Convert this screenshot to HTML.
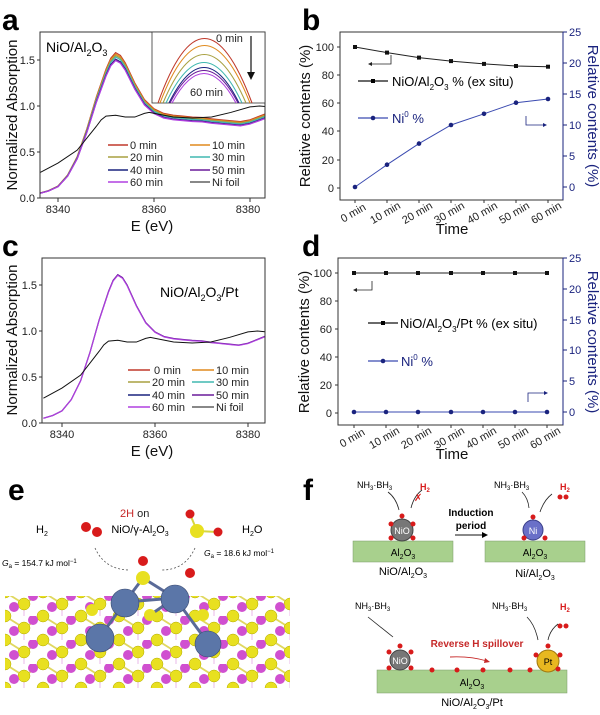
<!DOCTYPE html>
<html><head><meta charset="utf-8"><style>
html,body{margin:0;padding:0;background:#fff}
svg{display:block;font-family:"Liberation Sans",Arial,sans-serif}
.t{font-size:11px;fill:#222}
.ax{font-size:15px;fill:#111}
.lg{font-size:11px;fill:#222}
</style></head><body>
<svg width="600" height="715" viewBox="0 0 600 715" xmlns="http://www.w3.org/2000/svg">
<defs>
<clipPath id="ca"><rect x="40" y="32" width="225" height="166"/></clipPath>
<clipPath id="cc"><rect x="42" y="258" width="223" height="165"/></clipPath>
<clipPath id="ci"><rect x="152" y="32" width="113" height="71"/></clipPath>
<polyline id="nio" fill="none" vector-effect="non-scaling-stroke" points="0,0.05 2,0.08 4,0.13 6,0.25 8,0.45 10,0.75 12,1.1 14,1.4 15,1.52 16,1.58 17,1.55 18,1.47 20,1.25 22,1.07 24,0.97 26,0.92 28,0.9 30,0.89 32,0.88 34,0.875 36,0.86 38,0.85 40,0.84 42,0.83 44,0.85 46,0.89 48,0.93"/>
<polyline id="foil" fill="none" vector-effect="non-scaling-stroke" points="0,0.27 4,0.38 8,0.52 10,0.65 12,0.78 13,0.85 14,0.89 16,0.9 18,0.88 20,0.88 22,0.92 23,0.93 25,0.91 28,0.88 32,0.87 36,0.88 40,0.93 44,0.99 46,1.0 48,0.99"/>
<pattern id="lat" x="5" y="592" width="38" height="24" patternUnits="userSpaceOnUse">
 <line x1="0" y1="0" x2="19" y2="12" stroke="#e0d860" stroke-width="1.8"/>
 <line x1="19" y1="12" x2="38" y2="0" stroke="#e0d860" stroke-width="1.8"/>
 <line x1="19" y1="12" x2="19" y2="24" stroke="#e8b8e8" stroke-width="1"/>
 <circle cx="0" cy="0" r="6" fill="#e8e020" stroke="#b0a800" stroke-width="0.5"/>
 <circle cx="38" cy="0" r="6" fill="#e8e020" stroke="#b0a800" stroke-width="0.5"/>
 <circle cx="0" cy="24" r="6" fill="#e8e020" stroke="#b0a800" stroke-width="0.5"/>
 <circle cx="38" cy="24" r="6" fill="#e8e020" stroke="#b0a800" stroke-width="0.5"/>
 <circle cx="19" cy="12" r="6" fill="#e8e020" stroke="#b0a800" stroke-width="0.5"/>
 <circle cx="9" cy="15" r="5" fill="#d050d0"/>
 <circle cx="28" cy="4" r="5" fill="#d050d0"/>
</pattern>
</defs>

<text x="2" y="30" font-size="30" font-weight="bold">a</text>
<text x="302" y="30" font-size="30" font-weight="bold">b</text>
<text x="2" y="256" font-size="30" font-weight="bold">c</text>
<text x="302" y="256" font-size="30" font-weight="bold">d</text>
<text x="8" y="500" font-size="30" font-weight="bold">e</text>
<text x="303" y="500" font-size="30" font-weight="bold">f</text>

<!-- ===== Panel a ===== -->
<g clip-path="url(#ca)">
 <g transform="translate(38.8,198) scale(4.8,-92)">
  <use href="#nio" stroke="#c0392b" stroke-width="1.2"/>
  <use href="#nio" stroke="#e08a1e" stroke-width="1.2" transform="scale(1,0.99)"/>
  <use href="#nio" stroke="#a8a040" stroke-width="1.2" transform="scale(1,0.98)"/>
  <use href="#nio" stroke="#40b8b0" stroke-width="1.2" transform="scale(1,0.97)"/>
  <use href="#nio" stroke="#1a237e" stroke-width="1.2" transform="scale(1,0.955)"/>
  <use href="#nio" stroke="#6a1b9a" stroke-width="1.2" transform="scale(1,0.95)"/>
  <use href="#nio" stroke="#b040e0" stroke-width="1.2" transform="scale(1,0.945)"/>
  <use href="#foil" stroke="#111" stroke-width="1"/>
 </g>
</g>
<rect x="40" y="32" width="225" height="166" fill="none" stroke="#333" stroke-width="1"/>
<rect x="152" y="32" width="113" height="71" fill="#fff" stroke="#333" stroke-width="0.8"/>
<g clip-path="url(#ci)" fill="none" stroke-width="1.1">
 <path d="M158,103 Q204,-26 252,103" stroke="#c0392b"/>
 <path d="M160,103 Q204,-12 250,103" stroke="#e08a1e"/>
 <path d="M163,103 Q204,6 246,103" stroke="#a8a040"/>
 <path d="M166,103 Q204,22 242,103" stroke="#40b8b0"/>
 <path d="M169,103 Q204,32 239,103" stroke="#1a237e"/>
 <path d="M170,103 Q204,38 238,103" stroke="#6a1b9a"/>
 <path d="M172,103 Q204,44 236,103" stroke="#b040e0"/>
</g>
<text x="216" y="42" class="t">0 min</text>
<text x="190" y="96" class="t">60 min</text>
<line x1="251" y1="36" x2="251" y2="76" stroke="#111" stroke-width="1.2"/>
<path d="M247,72 L251,80 L255,72 Z" fill="#111"/>
<text x="46" y="52" font-size="14">NiO/Al<tspan font-size="9" dy="4">2</tspan><tspan dy="-4">O</tspan><tspan font-size="9" dy="4">3</tspan></text>
<g stroke="#333" stroke-width="1">
 <line x1="40" y1="198" x2="37" y2="198"/><line x1="40" y1="152" x2="37" y2="152"/><line x1="40" y1="106" x2="37" y2="106"/><line x1="40" y1="60" x2="37" y2="60"/>
 <line x1="58" y1="198" x2="58" y2="202"/><line x1="154" y1="198" x2="154" y2="202"/><line x1="250" y1="198" x2="250" y2="202"/>
</g>
<text x="35" y="202" class="t" text-anchor="end">0.0</text>
<text x="35" y="156" class="t" text-anchor="end">0.5</text>
<text x="35" y="110" class="t" text-anchor="end">1.0</text>
<text x="35" y="64" class="t" text-anchor="end">1.5</text>
<text x="58" y="213" class="t" text-anchor="middle">8340</text>
<text x="154" y="213" class="t" text-anchor="middle">8360</text>
<text x="248" y="213" class="t" text-anchor="middle">8380</text>
<text x="152" y="231" class="ax" text-anchor="middle">E (eV)</text>
<text transform="translate(17,115) rotate(-90)" class="ax" text-anchor="middle">Normalized Absorption</text>
<g stroke-width="1.5">
 <line x1="108" y1="145" x2="128" y2="145" stroke="#c0392b"/><line x1="190" y1="145" x2="210" y2="145" stroke="#e08a1e"/>
 <line x1="108" y1="157" x2="128" y2="157" stroke="#a8a040"/><line x1="190" y1="157" x2="210" y2="157" stroke="#40b8b0"/>
 <line x1="108" y1="170" x2="128" y2="170" stroke="#1a237e"/><line x1="190" y1="170" x2="210" y2="170" stroke="#6a1b9a"/>
 <line x1="108" y1="182" x2="128" y2="182" stroke="#b040e0"/><line x1="190" y1="182" x2="210" y2="182" stroke="#111" stroke-width="1"/>
</g>
<text x="130" y="149" class="lg">0 min</text><text x="212" y="149" class="lg">10 min</text>
<text x="130" y="161" class="lg">20 min</text><text x="212" y="161" class="lg">30 min</text>
<text x="130" y="174" class="lg">40 min</text><text x="212" y="174" class="lg">50 min</text>
<text x="130" y="186" class="lg">60 min</text><text x="212" y="186" class="lg">Ni foil</text>

<!-- ===== Panel c ===== -->
<g clip-path="url(#cc)">
 <g transform="translate(43.4,423) scale(4.65,-92)">
  <use href="#nio" stroke="#6a1b9a" stroke-width="1.3" transform="scale(1,1.02)"/>
  <use href="#nio" stroke="#b040e0" stroke-width="1.1" transform="scale(1,1.015)"/>
  <use href="#foil" stroke="#111" stroke-width="1"/>
 </g>
</g>
<rect x="42" y="258" width="223" height="165" fill="none" stroke="#333" stroke-width="1"/>
<g stroke="#333" stroke-width="1">
 <line x1="42" y1="423" x2="39" y2="423"/><line x1="42" y1="377" x2="39" y2="377"/><line x1="42" y1="331" x2="39" y2="331"/><line x1="42" y1="285" x2="39" y2="285"/>
 <line x1="62" y1="423" x2="62" y2="427"/><line x1="155" y1="423" x2="155" y2="427"/><line x1="248" y1="423" x2="248" y2="427"/>
</g>
<text x="37" y="427" class="t" text-anchor="end">0.0</text>
<text x="37" y="381" class="t" text-anchor="end">0.5</text>
<text x="37" y="335" class="t" text-anchor="end">1.0</text>
<text x="37" y="289" class="t" text-anchor="end">1.5</text>
<text x="62" y="438" class="t" text-anchor="middle">8340</text>
<text x="155" y="438" class="t" text-anchor="middle">8360</text>
<text x="248" y="438" class="t" text-anchor="middle">8380</text>
<text x="152" y="456" class="ax" text-anchor="middle">E (eV)</text>
<text transform="translate(17,340) rotate(-90)" class="ax" text-anchor="middle">Normalized Absorption</text>
<text x="160" y="297" font-size="14">NiO/Al<tspan font-size="9" dy="4">2</tspan><tspan dy="-4">O</tspan><tspan font-size="9" dy="4">3</tspan><tspan dy="-4">/Pt</tspan></text>
<g stroke-width="1.5">
 <line x1="128" y1="370" x2="150" y2="370" stroke="#c0392b"/><line x1="192" y1="370" x2="214" y2="370" stroke="#e08a1e"/>
 <line x1="128" y1="382" x2="150" y2="382" stroke="#a8a040"/><line x1="192" y1="382" x2="214" y2="382" stroke="#40b8b0"/>
 <line x1="128" y1="395" x2="150" y2="395" stroke="#1a237e"/><line x1="192" y1="395" x2="214" y2="395" stroke="#6a1b9a"/>
 <line x1="128" y1="407" x2="150" y2="407" stroke="#b040e0"/><line x1="192" y1="407" x2="214" y2="407" stroke="#111" stroke-width="1"/>
</g>
<text x="154" y="374" class="lg">0  min</text><text x="216" y="374" class="lg">10 min</text>
<text x="152" y="386" class="lg">20 min</text><text x="216" y="386" class="lg">30 min</text>
<text x="152" y="399" class="lg">40 min</text><text x="216" y="399" class="lg">50 min</text>
<text x="152" y="411" class="lg">60 min</text><text x="216" y="411" class="lg">Ni  foil</text>

<!-- ===== Panel b ===== -->
<rect x="340" y="32" width="223" height="168" fill="none" stroke="#333" stroke-width="1"/>
<line x1="563" y1="32" x2="563" y2="200" stroke="#1a237e" stroke-width="1"/>
<g stroke="#333"><line x1="340" y1="188" x2="337" y2="188"/><line x1="340" y1="160" x2="337" y2="160"/><line x1="340" y1="131" x2="337" y2="131"/><line x1="340" y1="103" x2="337" y2="103"/><line x1="340" y1="75" x2="337" y2="75"/><line x1="340" y1="47" x2="337" y2="47"/></g>
<text x="334" y="192" class="t" text-anchor="end">0</text><text x="334" y="164" class="t" text-anchor="end">20</text><text x="334" y="135" class="t" text-anchor="end">40</text><text x="334" y="107" class="t" text-anchor="end">60</text><text x="334" y="79" class="t" text-anchor="end">80</text><text x="334" y="51" class="t" text-anchor="end">100</text>
<g stroke="#1a237e"><line x1="563" y1="187" x2="567" y2="187"/><line x1="563" y1="156" x2="567" y2="156"/><line x1="563" y1="125" x2="567" y2="125"/><line x1="563" y1="94" x2="567" y2="94"/><line x1="563" y1="63" x2="567" y2="63"/><line x1="563" y1="32" x2="567" y2="32"/></g>
<g class="t" style="fill:#1a237e"><text x="569" y="191">0</text><text x="569" y="160">5</text><text x="569" y="129">10</text><text x="569" y="98">15</text><text x="569" y="67">20</text><text x="569" y="36">25</text></g>
<text transform="translate(588,116) rotate(90)" class="ax" text-anchor="middle" style="fill:#1a237e">Relative contents (%)</text>
<text transform="translate(310,116) rotate(-90)" class="ax" text-anchor="middle">Relative contents (%)</text>
<g stroke="#333"><line x1="355" y1="200" x2="355" y2="203"/><line x1="387" y1="200" x2="387" y2="203"/><line x1="419" y1="200" x2="419" y2="203"/><line x1="451" y1="200" x2="451" y2="203"/><line x1="484" y1="200" x2="484" y2="203"/><line x1="516" y1="200" x2="516" y2="203"/><line x1="548" y1="200" x2="548" y2="203"/></g>
<g class="t" font-size="10">
<text transform="translate(355,216) rotate(-30)" text-anchor="middle">0 min</text>
<text transform="translate(387,216) rotate(-30)" text-anchor="middle">10 min</text>
<text transform="translate(419,216) rotate(-30)" text-anchor="middle">20 min</text>
<text transform="translate(451,216) rotate(-30)" text-anchor="middle">30 min</text>
<text transform="translate(484,216) rotate(-30)" text-anchor="middle">40 min</text>
<text transform="translate(516,216) rotate(-30)" text-anchor="middle">50 min</text>
<text transform="translate(548,216) rotate(-30)" text-anchor="middle">60 min</text>
</g>
<text x="452" y="234" class="ax" text-anchor="middle">Time</text>
<polyline points="355,47 387,52.6 419,57.6 451,61.1 484,63.9 516,66 548,66.7" fill="none" stroke="#222" stroke-width="1"/>
<g fill="#111"><rect x="353" y="45" width="4" height="4"/><rect x="385" y="50.6" width="4" height="4"/><rect x="417" y="55.6" width="4" height="4"/><rect x="449" y="59.1" width="4" height="4"/><rect x="482" y="61.9" width="4" height="4"/><rect x="514" y="64" width="4" height="4"/><rect x="546" y="64.7" width="4" height="4"/></g>
<polyline points="355,187 387,164.7 419,143.6 451,125 484,113.8 516,102.7 548,99" fill="none" stroke="#3a4ab0" stroke-width="1"/>
<g fill="#1a237e"><circle cx="355" cy="187" r="2.3"/><circle cx="387" cy="164.7" r="2.3"/><circle cx="419" cy="143.6" r="2.3"/><circle cx="451" cy="125" r="2.3"/><circle cx="484" cy="113.8" r="2.3"/><circle cx="516" cy="102.7" r="2.3"/><circle cx="548" cy="99" r="2.3"/></g>
<path d="M391,55 V64 H372" fill="none" stroke="#222" stroke-width="0.8"/><path d="M372,62 L368,64 L372,66Z" fill="#222"/>
<path d="M526,116 V125 H543" fill="none" stroke="#1a237e" stroke-width="0.8"/><path d="M543,123 L547,125 L543,127Z" fill="#1a237e"/>
<line x1="358" y1="81" x2="388" y2="81" stroke="#111" stroke-width="1.2"/><rect x="371" y="79" width="4" height="4"/>
<text x="392" y="86" font-size="13">NiO/Al<tspan font-size="8" dy="4">2</tspan><tspan dy="-4">O</tspan><tspan font-size="8" dy="4">3</tspan><tspan dy="-4">  % (ex situ)</tspan></text>
<line x1="358" y1="118" x2="388" y2="118" stroke="#3a4ab0" stroke-width="1.2"/><circle cx="373" cy="118" r="2.3" fill="#1a237e"/>
<text x="392" y="123" font-size="13" fill="#1a237e">Ni<tspan font-size="8" dy="-6">0</tspan><tspan dy="6">  %</tspan></text>

<!-- ===== Panel d ===== -->
<rect x="338" y="258" width="225" height="167" fill="none" stroke="#333" stroke-width="1"/>
<line x1="563" y1="258" x2="563" y2="425" stroke="#1a237e" stroke-width="1"/>
<g stroke="#333"><line x1="338" y1="413" x2="335" y2="413"/><line x1="338" y1="385" x2="335" y2="385"/><line x1="338" y1="357" x2="335" y2="357"/><line x1="338" y1="329" x2="335" y2="329"/><line x1="338" y1="301" x2="335" y2="301"/><line x1="338" y1="273" x2="335" y2="273"/></g>
<text x="332" y="417" class="t" text-anchor="end">0</text><text x="332" y="389" class="t" text-anchor="end">20</text><text x="332" y="361" class="t" text-anchor="end">40</text><text x="332" y="333" class="t" text-anchor="end">60</text><text x="332" y="305" class="t" text-anchor="end">80</text><text x="332" y="277" class="t" text-anchor="end">100</text>
<g stroke="#1a237e"><line x1="563" y1="412" x2="567" y2="412"/><line x1="563" y1="381" x2="567" y2="381"/><line x1="563" y1="350" x2="567" y2="350"/><line x1="563" y1="320" x2="567" y2="320"/><line x1="563" y1="289" x2="567" y2="289"/><line x1="563" y1="258" x2="567" y2="258"/></g>
<g class="t" style="fill:#1a237e"><text x="569" y="416">0</text><text x="569" y="385">5</text><text x="569" y="354">10</text><text x="569" y="324">15</text><text x="569" y="293">20</text><text x="569" y="262">25</text></g>
<text transform="translate(588,342) rotate(90)" class="ax" text-anchor="middle" style="fill:#1a237e">Relative contents (%)</text>
<text transform="translate(309,342) rotate(-90)" class="ax" text-anchor="middle">Relative contents (%)</text>
<g stroke="#333"><line x1="354" y1="425" x2="354" y2="428"/><line x1="386" y1="425" x2="386" y2="428"/><line x1="418" y1="425" x2="418" y2="428"/><line x1="451" y1="425" x2="451" y2="428"/><line x1="483" y1="425" x2="483" y2="428"/><line x1="515" y1="425" x2="515" y2="428"/><line x1="547" y1="425" x2="547" y2="428"/></g>
<g class="t" font-size="10">
<text transform="translate(354,441) rotate(-30)" text-anchor="middle">0 min</text>
<text transform="translate(386,441) rotate(-30)" text-anchor="middle">10 min</text>
<text transform="translate(418,441) rotate(-30)" text-anchor="middle">20 min</text>
<text transform="translate(451,441) rotate(-30)" text-anchor="middle">30 min</text>
<text transform="translate(483,441) rotate(-30)" text-anchor="middle">40 min</text>
<text transform="translate(515,441) rotate(-30)" text-anchor="middle">50 min</text>
<text transform="translate(547,441) rotate(-30)" text-anchor="middle">60 min</text>
</g>
<text x="452" y="459" class="ax" text-anchor="middle">Time</text>
<line x1="354" y1="273" x2="547" y2="273" stroke="#222" stroke-width="1"/>
<g fill="#111"><rect x="352" y="271" width="4" height="4"/><rect x="384" y="271" width="4" height="4"/><rect x="416" y="271" width="4" height="4"/><rect x="449" y="271" width="4" height="4"/><rect x="481" y="271" width="4" height="4"/><rect x="513" y="271" width="4" height="4"/><rect x="545" y="271" width="4" height="4"/></g>
<line x1="354" y1="412" x2="547" y2="412" stroke="#3a4ab0" stroke-width="1"/>
<g fill="#1a237e"><circle cx="354" cy="412" r="2.3"/><circle cx="386" cy="412" r="2.3"/><circle cx="418" cy="412" r="2.3"/><circle cx="451" cy="412" r="2.3"/><circle cx="483" cy="412" r="2.3"/><circle cx="515" cy="412" r="2.3"/><circle cx="547" cy="412" r="2.3"/></g>
<path d="M372,281 V290 H357" fill="none" stroke="#222" stroke-width="0.8"/><path d="M357,288 L353,290 L357,292Z" fill="#222"/>
<path d="M528,402 V393 H544" fill="none" stroke="#1a237e" stroke-width="0.8"/><path d="M544,391 L548,393 L544,395Z" fill="#1a237e"/>
<line x1="368" y1="323" x2="398" y2="323" stroke="#111" stroke-width="1.2"/><rect x="381" y="321" width="4" height="4"/>
<text x="400" y="328" font-size="13">NiO/Al<tspan font-size="8" dy="4">2</tspan><tspan dy="-4">O</tspan><tspan font-size="8" dy="4">3</tspan><tspan dy="-4">/Pt  %  (ex situ)</tspan></text>
<line x1="368" y1="361" x2="398" y2="361" stroke="#3a4ab0" stroke-width="1.2"/><circle cx="383" cy="361" r="2.3" fill="#1a237e"/>
<text x="401" y="366" font-size="13" fill="#1a237e">Ni<tspan font-size="8" dy="-6">0</tspan><tspan dy="6"> %</tspan></text>

<!-- ===== Panel e ===== -->
<text x="120" y="517" font-size="11" fill="#c62828">2H <tspan fill="#222">on</tspan></text>
<text x="140" y="533" font-size="11" text-anchor="middle">NiO/γ-Al<tspan font-size="7" dy="3">2</tspan><tspan dy="-3">O</tspan><tspan font-size="7" dy="3">3</tspan></text>
<text x="36" y="533" font-size="11">H<tspan font-size="7" dy="3">2</tspan></text>
<text x="242" y="533" font-size="11">H<tspan font-size="7" dy="3">2</tspan><tspan dy="-3">O</tspan></text>
<text x="2" y="566" font-size="8.5"><tspan font-style="italic">G</tspan><tspan font-size="6" dy="2">a</tspan><tspan dy="-2"> = 154.7 kJ mol</tspan><tspan font-size="6" dy="-3">−1</tspan></text>
<text x="204" y="556" font-size="8.5"><tspan font-style="italic">G</tspan><tspan font-size="6" dy="2">a</tspan><tspan dy="-2"> = 18.6 kJ mol</tspan><tspan font-size="6" dy="-3">−1</tspan></text>
<path d="M95,548 Q105,570 130,570" fill="none" stroke="#555" stroke-dasharray="2,2" stroke-width="0.8"/>
<path d="M195,548 Q185,570 162,570" fill="none" stroke="#555" stroke-dasharray="2,2" stroke-width="0.8"/>
<circle cx="86" cy="527" r="5" fill="#d81b1b"/><circle cx="97" cy="532" r="5" fill="#d81b1b"/>
<line x1="197" y1="531" x2="190" y2="514" stroke="#d6d640" stroke-width="2"/><line x1="197" y1="531" x2="218" y2="532" stroke="#d6d640" stroke-width="2"/>
<circle cx="197" cy="531" r="7" fill="#e8e020"/><circle cx="190" cy="514" r="4.5" fill="#d81b1b"/><circle cx="218" cy="532" r="4.5" fill="#d81b1b"/>
<rect x="5" y="596" width="285" height="92" fill="url(#lat)"/>
<g stroke="#5a6a98" stroke-width="3"><line x1="125" y1="602" x2="175" y2="598"/><line x1="125" y1="602" x2="100" y2="637"/><line x1="175" y1="598" x2="208" y2="643"/><line x1="175" y1="598" x2="143" y2="578"/><line x1="125" y1="602" x2="143" y2="578"/><line x1="175" y1="598" x2="150" y2="615"/></g>
<circle cx="92" cy="610" r="6" fill="#e8e020"/><circle cx="203" cy="615" r="6" fill="#e8e020"/>
<g fill="#5b76a8" stroke="#3a4a70" stroke-width="0.6">
 <circle cx="125" cy="603" r="14"/><circle cx="175" cy="599" r="14"/><circle cx="100" cy="638" r="14"/><circle cx="208" cy="644" r="13"/>
</g>
<circle cx="150" cy="615" r="6" fill="#e8e020"/>
<circle cx="143" cy="578" r="7" fill="#e8e020"/><circle cx="143" cy="561" r="5" fill="#d81b1b"/><circle cx="190" cy="573" r="5" fill="#d81b1b"/>

<!-- ===== Panel f ===== -->
<g font-size="10">
<rect x="353" y="541" width="100" height="21" fill="#a8d08d" stroke="#7a9a68" stroke-width="0.5"/>
<text x="403" y="556" text-anchor="middle">Al<tspan font-size="7" dy="3">2</tspan><tspan dy="-3">O</tspan><tspan font-size="7" dy="3">3</tspan></text>
<circle cx="402" cy="530" r="11" fill="#777" stroke="#444"/><text x="402" y="534" text-anchor="middle" fill="#fff" font-size="9">NiO</text>
<g fill="#d81b1b"><circle cx="402" cy="516" r="2.5"/><circle cx="391" cy="524" r="2.5"/><circle cx="413" cy="524" r="2.5"/><circle cx="391" cy="538" r="2.5"/><circle cx="413" cy="538" r="2.5"/></g>
<text x="403" y="575" text-anchor="middle" font-size="11">NiO/Al<tspan font-size="7" dy="3">2</tspan><tspan dy="-3">O</tspan><tspan font-size="7" dy="3">3</tspan></text>
<text x="357" y="488" font-size="9">NH<tspan font-size="6" dy="2">3</tspan><tspan dy="-2">·BH</tspan><tspan font-size="6" dy="2">3</tspan></text>
<path d="M388,492 Q396,498 399,510" fill="none" stroke="#222" stroke-width="0.8"/>
<path d="M411,508 Q414,496 422,490" fill="none" stroke="#222" stroke-width="0.8"/>
<text x="414" y="501" fill="#d81b1b" font-size="10">✗</text>
<text x="420" y="490" font-size="9" fill="#d81b1b" font-weight="bold">H<tspan font-size="6" dy="2">2</tspan></text>
<text x="471" y="516" text-anchor="middle" font-weight="bold" font-size="10">Induction</text>
<text x="471" y="529" text-anchor="middle" font-weight="bold" font-size="10">period</text>
<line x1="455" y1="535" x2="484" y2="535" stroke="#111"/><path d="M482,532 L488,535 L482,538Z"/>
<rect x="485" y="541" width="100" height="21" fill="#a8d08d" stroke="#7a9a68" stroke-width="0.5"/>
<text x="535" y="556" text-anchor="middle">Al<tspan font-size="7" dy="3">2</tspan><tspan dy="-3">O</tspan><tspan font-size="7" dy="3">3</tspan></text>
<circle cx="533" cy="530" r="10" fill="#6a70c8" stroke="#3a3e88"/><text x="533" y="534" text-anchor="middle" fill="#fff" font-size="9">Ni</text>
<g fill="#d81b1b"><circle cx="533" cy="517" r="2.5"/><circle cx="524" cy="538" r="2.5"/><circle cx="545" cy="538" r="2.5"/></g>
<text x="535" y="577" text-anchor="middle" font-size="11">Ni/Al<tspan font-size="7" dy="3">2</tspan><tspan dy="-3">O</tspan><tspan font-size="7" dy="3">3</tspan></text>
<text x="494" y="488" font-size="9">NH<tspan font-size="6" dy="2">3</tspan><tspan dy="-2">·BH</tspan><tspan font-size="6" dy="2">3</tspan></text>
<path d="M522,492 Q528,498 529,508" fill="none" stroke="#222" stroke-width="0.8"/>
<path d="M540,512 Q544,500 552,494" fill="none" stroke="#222" stroke-width="0.8"/>
<text x="560" y="490" font-size="9" fill="#d81b1b" font-weight="bold">H<tspan font-size="6" dy="2">2</tspan></text>
<circle cx="560" cy="497" r="2.5" fill="#d81b1b"/><circle cx="566" cy="497" r="2.5" fill="#d81b1b"/>
<rect x="377" y="670" width="190" height="23" fill="#a8d08d" stroke="#7a9a68" stroke-width="0.5"/>
<text x="472" y="686" text-anchor="middle">Al<tspan font-size="7" dy="3">2</tspan><tspan dy="-3">O</tspan><tspan font-size="7" dy="3">3</tspan></text>
<text x="472" y="706" text-anchor="middle" font-size="11">NiO/Al<tspan font-size="7" dy="3">2</tspan><tspan dy="-3">O</tspan><tspan font-size="7" dy="3">3</tspan><tspan dy="-3">/Pt</tspan></text>
<circle cx="400" cy="660" r="10" fill="#777" stroke="#444"/><text x="400" y="664" text-anchor="middle" fill="#fff" font-size="9">NiO</text>
<circle cx="548" cy="661" r="11" fill="#e8b820" stroke="#a07810"/><text x="548" y="665" text-anchor="middle" font-size="9">Pt</text>
<g fill="#d81b1b"><circle cx="400" cy="646" r="2.5"/><circle cx="389" cy="652" r="2.5"/><circle cx="411" cy="652" r="2.5"/><circle cx="389" cy="668" r="2.5"/><circle cx="411" cy="668" r="2.5"/>
<circle cx="432" cy="670" r="2.5"/><circle cx="457" cy="670" r="2.5"/><circle cx="483" cy="670" r="2.5"/><circle cx="510" cy="670" r="2.5"/><circle cx="530" cy="670" r="2.5"/>
<circle cx="548" cy="646" r="2.5"/><circle cx="536" cy="655" r="2.5"/><circle cx="560" cy="655" r="2.5"/><circle cx="558" cy="669" r="2.5"/>
<circle cx="560" cy="626" r="2.5"/><circle cx="566" cy="626" r="2.5"/></g>
<text x="477" y="647" text-anchor="middle" fill="#c62828" font-weight="bold" font-size="10">Reverse H spillover</text>
<path d="M450,657 Q470,656 487,661" fill="none" stroke="#c62828" stroke-width="0.9"/><path d="M485,658 L490,662 L484,663Z" fill="#c62828"/>
<text x="355" y="609" font-size="9">NH<tspan font-size="6" dy="2">3</tspan><tspan dy="-2">·BH</tspan><tspan font-size="6" dy="2">3</tspan></text>
<path d="M368,617 Q378,625 393,637" fill="none" stroke="#222" stroke-width="0.8"/>
<text x="492" y="609" font-size="9">NH<tspan font-size="6" dy="2">3</tspan><tspan dy="-2">·BH</tspan><tspan font-size="6" dy="2">3</tspan></text>
<path d="M527,617 Q535,625 538,640" fill="none" stroke="#222" stroke-width="0.8"/>
<path d="M548,640 Q550,630 558,624" fill="none" stroke="#222" stroke-width="0.8"/>
<text x="560" y="610" font-size="9" fill="#d81b1b" font-weight="bold">H<tspan font-size="6" dy="2">2</tspan></text>
</g>
</svg>
</body></html>
